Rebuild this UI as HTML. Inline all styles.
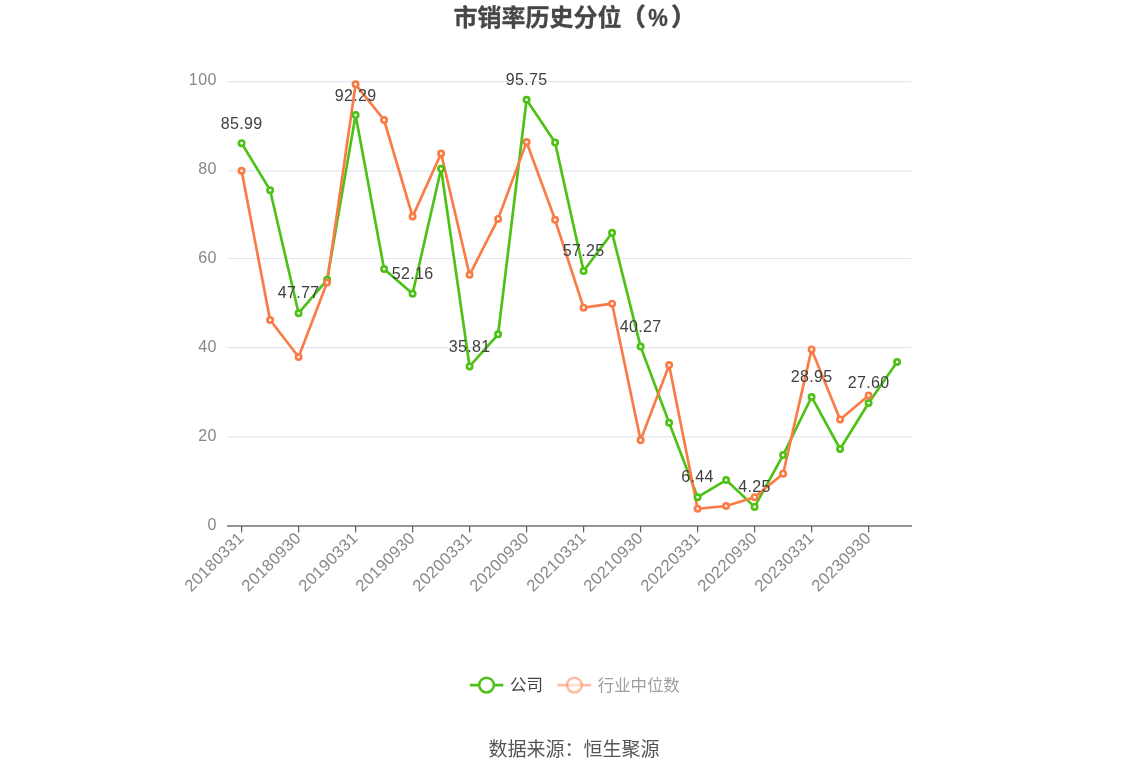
<!DOCTYPE html>
<html lang="zh-CN"><head><meta charset="utf-8"><title>市销率历史分位（%）</title>
<style>
html,body{margin:0;padding:0;background:#fff;}
body{width:1148px;height:776px;overflow:hidden;}
svg{display:block;}
text{font-family:"Liberation Sans","Noto Sans CJK SC",sans-serif;}
.ttl{font-size:24.7px;font-weight:bold;fill:#464646;stroke:#464646;stroke-width:0.3px;}
.yl{font-size:16px;fill:#878787;letter-spacing:0.5px;}
.xl{font-size:16.5px;fill:#878787;letter-spacing:0.3px;}
.dl{font-size:16px;fill:#404040;letter-spacing:0.35px;}
.lg1{font-size:16.5px;fill:#454545;}
.lg2{font-size:16.4px;fill:#9e9e9e;}
.src{font-size:19px;fill:#555555;}
</style></head><body>
<svg width="1148" height="776" viewBox="0 0 1148 776">
<rect width="1148" height="776" fill="#ffffff"/>
<text class="ttl" x="453.4" y="25.6" style="font-size:24px">市销率历史分位<tspan x="621.2" y="25.3" style="font-size:24.4px;stroke-width:0.7px">（</tspan><tspan x="648.2" y="25.8" style="font-size:24.4px" textLength="19.6" lengthAdjust="spacingAndGlyphs">%</tspan><tspan x="671.2" y="25.3" style="font-size:24.4px;stroke-width:0.7px">）</tspan></text>
<g stroke="#E0E6F1" stroke-width="1.2" fill="none">
<line x1="227.35" y1="81.6" x2="911.35" y2="81.6"/>
<line x1="227.35" y1="170.8" x2="911.35" y2="170.8"/>
<line x1="227.35" y1="258.5" x2="911.35" y2="258.5"/>
<line x1="227.35" y1="347.7" x2="911.35" y2="347.7"/>
<line x1="227.35" y1="436.9" x2="911.35" y2="436.9"/>
</g>
<text class="yl" x="217" y="85.2" text-anchor="end">100</text>
<text class="yl" x="217" y="174.2" text-anchor="end">80</text>
<text class="yl" x="217" y="263.1" text-anchor="end">60</text>
<text class="yl" x="217" y="352.2" text-anchor="end">40</text>
<text class="yl" x="217" y="441.0" text-anchor="end">20</text>
<text class="yl" x="217" y="529.9" text-anchor="end">0</text>
<line x1="227.05" y1="525.9" x2="911.85" y2="525.9" stroke="#6E7079" stroke-width="1.5"/>
<g stroke="#5e5e5e" stroke-width="1.25">
<line x1="241.60" y1="526" x2="241.60" y2="532.4"/>
<line x1="298.60" y1="526" x2="298.60" y2="532.4"/>
<line x1="355.60" y1="526" x2="355.60" y2="532.4"/>
<line x1="412.60" y1="526" x2="412.60" y2="532.4"/>
<line x1="469.60" y1="526" x2="469.60" y2="532.4"/>
<line x1="526.60" y1="526" x2="526.60" y2="532.4"/>
<line x1="583.60" y1="526" x2="583.60" y2="532.4"/>
<line x1="640.60" y1="526" x2="640.60" y2="532.4"/>
<line x1="697.60" y1="526" x2="697.60" y2="532.4"/>
<line x1="754.60" y1="526" x2="754.60" y2="532.4"/>
<line x1="811.60" y1="526" x2="811.60" y2="532.4"/>
<line x1="868.60" y1="526" x2="868.60" y2="532.4"/>
</g>
<text class="xl" transform="translate(242.20,536.2) rotate(-45)" text-anchor="end" y="3.9">20180331</text>
<text class="xl" transform="translate(299.20,536.2) rotate(-45)" text-anchor="end" y="3.9">20180930</text>
<text class="xl" transform="translate(356.20,536.2) rotate(-45)" text-anchor="end" y="3.9">20190331</text>
<text class="xl" transform="translate(413.20,536.2) rotate(-45)" text-anchor="end" y="3.9">20190930</text>
<text class="xl" transform="translate(470.20,536.2) rotate(-45)" text-anchor="end" y="3.9">20200331</text>
<text class="xl" transform="translate(527.20,536.2) rotate(-45)" text-anchor="end" y="3.9">20200930</text>
<text class="xl" transform="translate(584.20,536.2) rotate(-45)" text-anchor="end" y="3.9">20210331</text>
<text class="xl" transform="translate(641.20,536.2) rotate(-45)" text-anchor="end" y="3.9">20210930</text>
<text class="xl" transform="translate(698.20,536.2) rotate(-45)" text-anchor="end" y="3.9">20220331</text>
<text class="xl" transform="translate(755.20,536.2) rotate(-45)" text-anchor="end" y="3.9">20220930</text>
<text class="xl" transform="translate(812.20,536.2) rotate(-45)" text-anchor="end" y="3.9">20230331</text>
<text class="xl" transform="translate(869.20,536.2) rotate(-45)" text-anchor="end" y="3.9">20230930</text>
<polyline points="241.60,143.14 270.10,190.18 298.60,313.22 327.10,279.80 355.60,115.11 384.10,268.99 412.60,293.69 441.10,168.82 469.60,366.45 498.10,334.36 526.60,99.71 555.10,142.61 583.60,271.04 612.10,232.81 640.60,346.60 669.10,422.74 697.60,497.14 726.10,480.05 754.60,506.89 783.10,455.04 811.60,396.97 840.10,448.99 868.60,402.98 897.10,362.00" fill="none" stroke="#4DC115" stroke-width="2.67" stroke-linejoin="bevel"/>
<polyline points="241.60,170.87 270.10,320.03 298.60,357.01 327.10,282.52 355.60,84.36 384.10,120.00 412.60,216.61 441.10,153.51 469.60,274.82 498.10,218.88 526.60,142.12 555.10,219.82 583.60,307.66 612.10,303.66 640.60,440.32 669.10,365.11 697.60,508.71 726.10,506.00 754.60,497.19 783.10,473.69 811.60,349.40 840.10,419.44 868.60,395.41" fill="none" stroke="#FA7B46" stroke-width="2.67" stroke-linejoin="bevel"/>
<text class="dl" x="241.60" y="129.14" text-anchor="middle">85.99</text>
<text class="dl" x="298.60" y="298.22" text-anchor="middle">47.77</text>
<text class="dl" x="355.60" y="100.61" text-anchor="middle">92.29</text>
<text class="dl" x="412.60" y="278.69" text-anchor="middle">52.16</text>
<text class="dl" x="469.60" y="352.35" text-anchor="middle">35.81</text>
<text class="dl" x="526.60" y="84.71" text-anchor="middle">95.75</text>
<text class="dl" x="583.60" y="256.04" text-anchor="middle">57.25</text>
<text class="dl" x="640.60" y="331.60" text-anchor="middle">40.27</text>
<text class="dl" x="697.60" y="482.14" text-anchor="middle">6.44</text>
<text class="dl" x="754.60" y="491.89" text-anchor="middle">4.25</text>
<text class="dl" x="811.60" y="381.97" text-anchor="middle">28.95</text>
<text class="dl" x="868.60" y="387.98" text-anchor="middle">27.60</text>
<g fill="#fff" stroke="#4DC115" stroke-width="2.67">
<circle cx="241.60" cy="143.14" r="2.67"/>
<circle cx="270.10" cy="190.18" r="2.67"/>
<circle cx="298.60" cy="313.22" r="2.67"/>
<circle cx="327.10" cy="279.80" r="2.67"/>
<circle cx="355.60" cy="115.11" r="2.67"/>
<circle cx="384.10" cy="268.99" r="2.67"/>
<circle cx="412.60" cy="293.69" r="2.67"/>
<circle cx="441.10" cy="168.82" r="2.67"/>
<circle cx="469.60" cy="366.45" r="2.67"/>
<circle cx="498.10" cy="334.36" r="2.67"/>
<circle cx="526.60" cy="99.71" r="2.67"/>
<circle cx="555.10" cy="142.61" r="2.67"/>
<circle cx="583.60" cy="271.04" r="2.67"/>
<circle cx="612.10" cy="232.81" r="2.67"/>
<circle cx="640.60" cy="346.60" r="2.67"/>
<circle cx="669.10" cy="422.74" r="2.67"/>
<circle cx="697.60" cy="497.14" r="2.67"/>
<circle cx="726.10" cy="480.05" r="2.67"/>
<circle cx="754.60" cy="506.89" r="2.67"/>
<circle cx="783.10" cy="455.04" r="2.67"/>
<circle cx="811.60" cy="396.97" r="2.67"/>
<circle cx="840.10" cy="448.99" r="2.67"/>
<circle cx="868.60" cy="402.98" r="2.67"/>
<circle cx="897.10" cy="362.00" r="2.67"/>
</g>
<g fill="#fff" stroke="#FA7B46" stroke-width="2.67">
<circle cx="241.60" cy="170.87" r="2.67"/>
<circle cx="270.10" cy="320.03" r="2.67"/>
<circle cx="298.60" cy="357.01" r="2.67"/>
<circle cx="327.10" cy="282.52" r="2.67"/>
<circle cx="355.60" cy="84.36" r="2.67"/>
<circle cx="384.10" cy="120.00" r="2.67"/>
<circle cx="412.60" cy="216.61" r="2.67"/>
<circle cx="441.10" cy="153.51" r="2.67"/>
<circle cx="469.60" cy="274.82" r="2.67"/>
<circle cx="498.10" cy="218.88" r="2.67"/>
<circle cx="526.60" cy="142.12" r="2.67"/>
<circle cx="555.10" cy="219.82" r="2.67"/>
<circle cx="583.60" cy="307.66" r="2.67"/>
<circle cx="612.10" cy="303.66" r="2.67"/>
<circle cx="640.60" cy="440.32" r="2.67"/>
<circle cx="669.10" cy="365.11" r="2.67"/>
<circle cx="697.60" cy="508.71" r="2.67"/>
<circle cx="726.10" cy="506.00" r="2.67"/>
<circle cx="754.60" cy="497.19" r="2.67"/>
<circle cx="783.10" cy="473.69" r="2.67"/>
<circle cx="811.60" cy="349.40" r="2.67"/>
<circle cx="840.10" cy="419.44" r="2.67"/>
<circle cx="868.60" cy="395.41" r="2.67"/>
</g>
<line x1="469.8" y1="685.05" x2="503.3" y2="685.05" stroke="#4DC115" stroke-width="2.67"/>
<circle cx="486.55" cy="685.05" r="7.35" fill="#fff" stroke="#4DC115" stroke-width="2.5"/>
<text class="lg1" x="509.9" y="690.9">公司</text>
<line x1="557.4" y1="685.05" x2="591.1" y2="685.05" stroke="#FA7B46" stroke-opacity="0.5" stroke-width="2.67"/>
<circle cx="574.35" cy="685.05" r="7.35" fill="#fff" fill-opacity="0.55" stroke="#FA7B46" stroke-opacity="0.5" stroke-width="2.5"/>
<text class="lg2" x="597.8" y="690.9">行业中位数</text>
<text class="src" x="574" y="756" text-anchor="middle">数据来源：恒生聚源</text>
</svg></body></html>
